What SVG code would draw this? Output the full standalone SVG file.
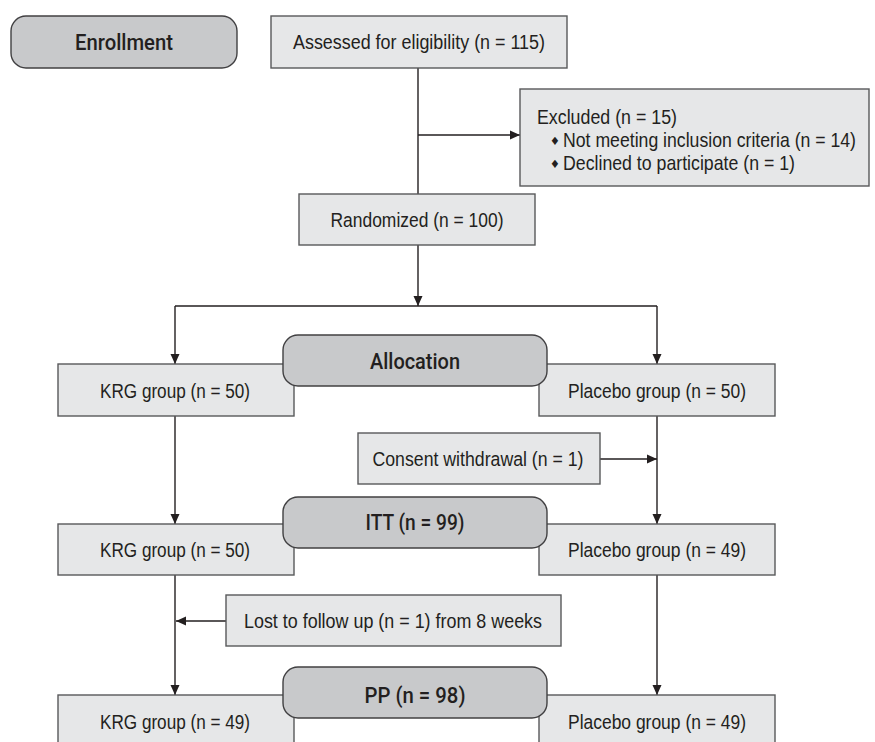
<svg xmlns="http://www.w3.org/2000/svg" width="875" height="742" viewBox="0 0 875 742">
<defs>
<marker id="arr" viewBox="0 0 10 10" refX="10" refY="5" markerWidth="10" markerHeight="10" markerUnits="userSpaceOnUse" orient="auto">
<path d="M0,0.5 L10,5 L0,9.5 z" fill="#231f20"/>
</marker>
<style>
.box{fill:#e6e7e8;stroke:#58595b;stroke-width:1.4}
.stage{fill:#c8c9cb;stroke:#414042;stroke-width:1.4}
.t{font-family:"Liberation Sans",Arial,sans-serif;font-size:20.5px;fill:#231f20}
.c{text-anchor:middle}
.h{font-family:Roboto,"Liberation Sans",Arial,sans-serif;font-weight:500;font-size:21.5px;fill:#231f20;text-anchor:middle}
.b{font-family:"DejaVu Sans",sans-serif;font-size:11.5px;fill:#231f20;text-anchor:middle}
.ln{fill:none;stroke:#231f20;stroke-width:1.4}
</style>
</defs>
<rect width="875" height="742" fill="#ffffff"/>
<g id="connectors">
<line class="ln" x1="418" y1="68" x2="418" y2="194"/>
<line class="ln" x1="418" y1="135" x2="520" y2="135" marker-end="url(#arr)"/>
<line class="ln" x1="418" y1="245" x2="418" y2="306" marker-end="url(#arr)"/>
<line class="ln" x1="175" y1="306" x2="657" y2="306"/>
<line class="ln" x1="175" y1="306" x2="175" y2="364" marker-end="url(#arr)"/>
<line class="ln" x1="657" y1="306" x2="657" y2="364" marker-end="url(#arr)"/>
<line class="ln" x1="175" y1="416" x2="175" y2="524" marker-end="url(#arr)"/>
<line class="ln" x1="657" y1="416" x2="657" y2="524" marker-end="url(#arr)"/>
<line class="ln" x1="600" y1="459" x2="657" y2="459" marker-end="url(#arr)"/>
<line class="ln" x1="175" y1="575" x2="175" y2="695" marker-end="url(#arr)"/>
<line class="ln" x1="226" y1="621" x2="176" y2="621" marker-end="url(#arr)"/>
<line class="ln" x1="657" y1="575" x2="657" y2="695" marker-end="url(#arr)"/>
</g>
<g id="enrollment">
<rect class="stage" x="11" y="16" width="226" height="52" rx="15"/>
<text class="h" x="124" y="50" textLength="98" lengthAdjust="spacingAndGlyphs">Enrollment</text>
</g>
<g id="assessed">
<rect class="box" x="271" y="16" width="296" height="52"/>
<text class="t c" x="419" y="49" textLength="252" lengthAdjust="spacingAndGlyphs">Assessed for eligibility (n = 115)</text>
</g>
<g id="excluded">
<rect class="box" x="520" y="89" width="349" height="97"/>
<text class="t" transform="translate(537,124) scale(0.85,1)" x="0" y="0" textLength="164.7" lengthAdjust="spacingAndGlyphs">Excluded (n = 15)</text>
<text class="b" x="555" y="145">♦</text>
<text class="t" transform="translate(563,147) scale(0.85,1)" x="0" y="0" textLength="344.7" lengthAdjust="spacingAndGlyphs">Not meeting inclusion criteria (n = 14)</text>
<text class="b" x="555" y="168">♦</text>
<text class="t" transform="translate(563,170) scale(0.85,1)" x="0" y="0" textLength="272.9" lengthAdjust="spacingAndGlyphs">Declined to participate (n = 1)</text>
</g>
<g id="randomized">
<rect class="box" x="299" y="194" width="236" height="51"/>
<text class="t c" x="417" y="227" textLength="173" lengthAdjust="spacingAndGlyphs">Randomized (n = 100)</text>
</g>
<g id="krg1">
<rect class="box" x="58" y="364" width="236" height="52"/>
<text class="t c" x="175" y="398" textLength="150" lengthAdjust="spacingAndGlyphs">KRG group (n = 50)</text>
</g>
<g id="placebo1">
<rect class="box" x="539" y="364" width="236" height="52"/>
<text class="t c" x="657" y="398" textLength="178" lengthAdjust="spacingAndGlyphs">Placebo group (n = 50)</text>
</g>
<g id="allocation">
<rect class="stage" x="283" y="335" width="264" height="51" rx="15"/>
<text class="h" x="415" y="369" textLength="90" lengthAdjust="spacingAndGlyphs">Allocation</text>
</g>
<g id="consent">
<rect class="box" x="358" y="433" width="242" height="51"/>
<text class="t c" x="478" y="466" textLength="211" lengthAdjust="spacingAndGlyphs">Consent withdrawal (n = 1)</text>
</g>
<g id="krg2">
<rect class="box" x="58" y="524" width="236" height="51"/>
<text class="t c" x="175" y="557" textLength="150" lengthAdjust="spacingAndGlyphs">KRG group (n = 50)</text>
</g>
<g id="placebo2">
<rect class="box" x="539" y="524" width="236" height="51"/>
<text class="t c" x="657" y="557" textLength="178" lengthAdjust="spacingAndGlyphs">Placebo group (n = 49)</text>
</g>
<g id="itt">
<rect class="stage" x="283" y="497" width="264" height="51" rx="15"/>
<text class="h" x="415" y="530" textLength="99" lengthAdjust="spacingAndGlyphs">ITT (n = 99)</text>
</g>
<g id="lost">
<rect class="box" x="226" y="595" width="335" height="51"/>
<text class="t c" x="393" y="628" textLength="298" lengthAdjust="spacingAndGlyphs">Lost to follow up (n = 1) from 8 weeks</text>
</g>
<g id="krg3">
<rect class="box" x="58" y="695" width="236" height="52"/>
<text class="t c" x="175" y="729" textLength="150" lengthAdjust="spacingAndGlyphs">KRG group (n = 49)</text>
</g>
<g id="placebo3">
<rect class="box" x="539" y="695" width="236" height="52"/>
<text class="t c" x="657" y="729" textLength="178" lengthAdjust="spacingAndGlyphs">Placebo group (n = 49)</text>
</g>
<g id="pp">
<rect class="stage" x="283" y="667" width="264" height="51" rx="15"/>
<text class="h" x="415" y="703" textLength="101" lengthAdjust="spacingAndGlyphs">PP (n = 98)</text>
</g>
</svg>
